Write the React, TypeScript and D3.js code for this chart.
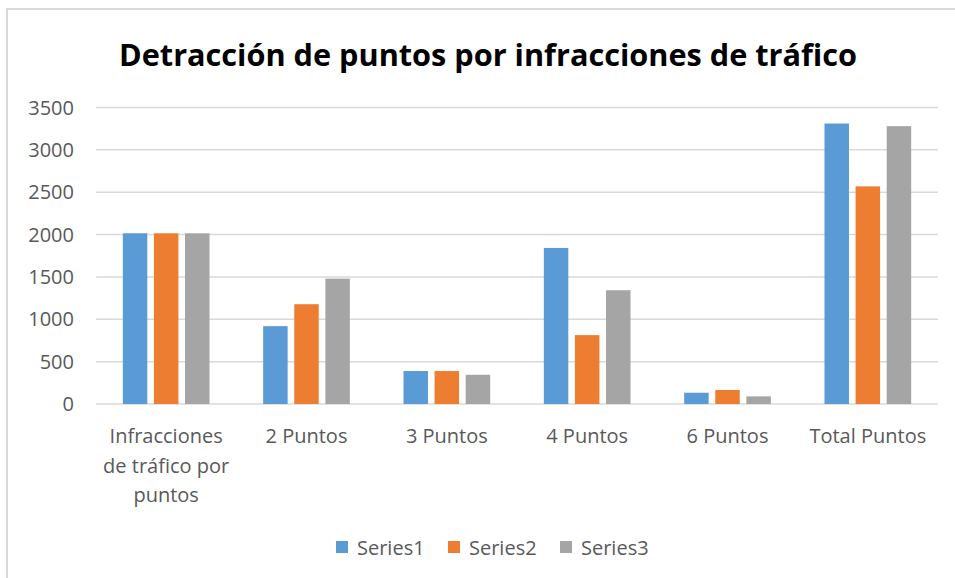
import React, { useEffect, useRef } from "react";
import * as d3 from "d3";

const categories = [
  "Infracciones de tráfico por puntos",
  "2 Puntos",
  "3 Puntos",
  "4 Puntos",
  "6 Puntos",
  "Total Puntos",
];
const categoryLines = [
  ["Infracciones", "de tráfico por", "puntos"],
  ["2 Puntos"],
  ["3 Puntos"],
  ["4 Puntos"],
  ["6 Puntos"],
  ["Total Puntos"],
];
const seriesNames = ["Series1", "Series2", "Series3"];
const series1 = [2015, 919, 389, 1842, 133, 3311];
const series2 = [2015, 1178, 389, 813, 165, 2569];
const series3 = [2015, 1480, 345, 1343, 90, 3280];
const yTicks = [0, 500, 1000, 1500, 2000, 2500, 3000, 3500];
const colors = ["#5b9bd5", "#ed7d31", "#a5a5a5"];

const W = 955;
const H = 578;
const FONT = "'Open Sans', 'Noto Sans', sans-serif";

export default function App() {
  const ref = useRef<SVGSVGElement | null>(null);

  useEffect(() => {
    const svg = d3.select(ref.current);
    svg.selectAll("*").remove();

    const margin = { left: 96, right: 17, top: 107.5, bottom: 174 };
    const x0 = d3
      .scaleBand<string>()
      .domain(categories)
      .range([margin.left, W - margin.right])
      .paddingInner(0)
      .paddingOuter(0);
    const y = d3.scaleLinear().domain([0, 3500]).range([H - margin.bottom, margin.top]);

    // frame
    svg
      .append("path")
      .attr("d", `M7,${H + 5} L7,9 L${W + 5},9`)
      .attr("fill", "none")
      .attr("stroke", "#d9d9d9")
      .attr("stroke-width", 2);

    // title
    svg
      .append("text")
      .attr("x", 488)
      .attr("y", 66)
      .attr("text-anchor", "middle")
      .attr("font-family", FONT)
      .attr("font-weight", "bold")
      .attr("font-size", 31)
      .attr("textLength", 738)
      .attr("lengthAdjust", "spacingAndGlyphs")
      .attr("fill", "#000")
      .text("Detracción de puntos por infracciones de tráfico");

    // gridlines
    svg
      .append("g")
      .selectAll("line")
      .data(yTicks)
      .join("line")
      .attr("x1", margin.left)
      .attr("x2", W - margin.right)
      .attr("y1", (d) => y(d))
      .attr("y2", (d) => y(d))
      .attr("stroke", "#d9d9d9")
      .attr("stroke-width", 1.5);

    // y labels
    svg
      .append("g")
      .selectAll("text")
      .data(yTicks)
      .join("text")
      .attr("x", 74)
      .attr("y", (d) => y(d) + 7)
      .attr("text-anchor", "end")
      .attr("font-family", FONT)
      .attr("font-size", 20)
      .attr("fill", "#595959")
      .text((d) => String(d));

    // bars: excel style gap width 219%, overlap -27%
    const bw = x0.bandwidth() / (3 + 2 * 0.27 + 2.19);
    const gap = bw * 0.27;
    const allSeries = [series1, series2, series3];
    allSeries.forEach((vals, si) => {
      svg
        .append("g")
        .selectAll("rect")
        .data(vals)
        .join("rect")
        .attr("x", (_, i) => {
          const c = (x0(categories[i]) as number) + x0.bandwidth() / 2;
          return c - (3 * bw + 2 * gap) / 2 + si * (bw + gap);
        })
        .attr("width", bw)
        .attr("y", (d) => y(d))
        .attr("height", (d) => y(0) - y(d))
        .attr("fill", colors[si]);
    });

    // x labels
    const xl = svg.append("g");
    categories.forEach((c, i) => {
      const cx = (x0(c) as number) + x0.bandwidth() / 2;
      categoryLines[i].forEach((line, li) => {
        xl.append("text")
          .attr("x", cx)
          .attr("y", 443 + li * 29.5)
          .attr("text-anchor", "middle")
          .attr("font-family", FONT)
          .attr("font-size", 20)
          .attr("fill", "#595959")
          .text(line);
      });
    });

    // legend
    const legendX = [336, 448, 560];
    const lg = svg.append("g");
    seriesNames.forEach((n, i) => {
      lg.append("rect")
        .attr("x", legendX[i])
        .attr("y", 541)
        .attr("width", 12)
        .attr("height", 12)
        .attr("fill", colors[i]);
      lg.append("text")
        .attr("x", legendX[i] + 21)
        .attr("y", 554.5)
        .attr("font-family", FONT)
        .attr("font-size", 20)
        .attr("fill", "#595959")
        .text(n);
    });
  }, []);

  return (
    <div style={{ position: "fixed", left: 0, top: 0, width: W, height: H, background: "#fff" }}>
      <svg ref={ref} width={W} height={H} style={{ display: "block" }}></svg>
    </div>
  );
}
